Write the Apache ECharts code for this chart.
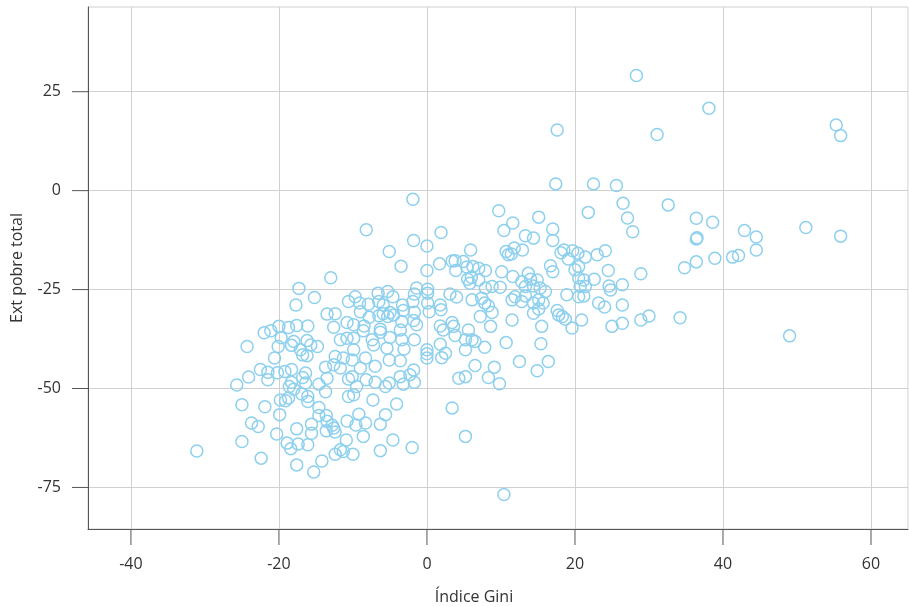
<!DOCTYPE html>
<html><head><meta charset="utf-8">
<script src="https://cdn.jsdelivr.net/npm/echarts@6/dist/echarts.min.js"></script>
<style>html,body{margin:0;padding:0;background:#fff}#c{width:909px;height:607px}</style>
</head><body><div id="c"></div>
<script>
// Índice Gini (x) and Ext pobre total (y)
const giniX = [
28.3,38.1,17.6,31.1,55.3,55.9,17.4,22.5,25.6,26.5,32.6,27.1,27.8,36.4,38.6,36.4,36.5,42.9,44.5,44.5,42.1,41.3,38.9,36.4,34.8,28.9,51.2,55.9,49.0,21.8,
9.7,15.1,11.6,10.4,13.3,14.4,17.0,17.0,10.7,11.0,11.8,12.9,11.4,18.5,18.1,19.1,19.7,20.4,21.4,23.0,24.1,16.7,17.0,10.1,11.6,13.7,12.8,14.0,14.9,14.4,
7.9,7.0,7.0,7.9,8.8,9.9,13.3,15.3,16.0,20.0,20.5,20.5,21.2,21.4,20.7,22.6,24.5,24.8,24.6,26.4,18.9,20.5,21.2,7.4,11.5,11.9,12.8,13.3,14.4,15.1,
15.7,7.8,8.3,15.1,14.4,8.8,17.6,17.8,18.3,18.7,23.2,24.0,26.4,7.2,11.5,15.5,20.9,26.4,8.6,
19.6,25.0,6.5,7.8,10.7,15.4,6.5,9.1,12.5,14.9,16.4,8.3,9.8,10.4,28.9,30.0,34.2,
-1.9,-8.2,-1.8,0.0,1.9,-5.1,-3.5,0.0,5.9,-13.0,1.7,3.4,3.8,3.9,4.9,5.4,6.2,5.5,5.8,6.0,-1.4,-1.7,0.1,0.1,3.1,4.0,6.1,-6.6,-5.3,-4.6,
-6.5,-9.7,-10.6,-9.1,-7.9,-5.9,-3.3,-1.9,0.1,1.8,1.9,0.3,-1.7,-3.2,-5.0,-5.9,-6.5,-7.8,-9.0,-12.4,-10.8,-9.9,-8.5,-6.3,-5.3,-4.5,-3.4,-1.8,-1.4,1.8,3.4,3.6,
-11.7,-10.8,-9.9,-8.6,-7.4,-6.3,-5.0,-3.6,-3.4,-1.7,-9.9,-7.2,-5.4,-3.1,-12.4,-11.3,-10.1,-8.3,-7.0,-5.1,-3.6,-11.7,-9.0,-1.8,-2.3,-3.6,-10.6,-10.1,-8.2,-7.0,
-5.1,-3.2,-1.7,-9.5,-5.6,0.0,0.0,0.0,1.8,2.0,2.5,2.2,3.8,5.6,5.2,6.1,5.2,4.3,5.2,3.4,5.2,-10.6,-9.9,-7.3,-4.1,-9.2,-5.6,-10.8,-9.6,-8.3,
-6.3,-12.6,-12.4,-8.6,-10.9,-4.6,-2.0,-6.3,-11.7,-11.3,-10.0,-12.4,
-17.3,-15.2,-17.7,-13.5,-22.0,-21.1,-20.0,-18.7,-17.6,-16.1,-12.6,-19.7,-18.0,-16.2,-24.3,-20.1,-18.3,-15.7,-14.8,-17.1,
-16.8,-16.2,-20.6,-22.5,-21.5,-21.5,-20.2,-19.2,-18.3,-16.4,-16.8,-13.7,-12.6,-13.5,-24.1,-25.7,-18.3,-18.6,-18.0,-16.4,-14.6,-13.7,-16.9,-16.1,-16.1,-19.8,-19.1,-18.7,-25.0,-21.9,
-14.6,-14.6,-13.6,-19.9,-13.5,-12.8,-23.7,-22.8,-15.6,-15.6,-17.6,-13.6,-20.3,-25.0,-18.9,-18.4,-17.4,-16.1,-31.1,-22.4,-14.2,-17.6,-15.3
];
const extPobre = [
29.1,20.8,15.3,14.2,16.6,13.9,1.7,1.7,1.3,-3.2,-3.6,-6.9,-10.4,-7.0,-8.0,-12.2,-11.9,-10.1,-11.7,-15.0,-16.4,-16.8,-17.1,-18.0,-19.5,-21.0,-9.3,-11.5,-36.7,-5.5,
-5.1,-6.7,-8.2,-10.1,-11.4,-12.0,-9.7,-12.6,-15.4,-16.2,-14.5,-15.0,-16.0,-15.0,-15.7,-17.3,-15.2,-15.8,-16.8,-16.2,-15.2,-19.0,-20.5,-20.5,-21.7,-20.9,-23.0,-22.4,-22.6,-24.1,
-20.2,-19.6,-22.6,-24.6,-24.2,-24.4,-24.2,-24.6,-25.5,-20.0,-19.2,-22.1,-22.6,-24.2,-24.2,-22.4,-20.2,-25.1,-24.1,-23.8,-26.3,-26.8,-26.6,-27.2,-27.6,-26.8,-28.0,-26.6,-28.4,-27.6,
-28.4,-28.4,-29.1,-29.9,-31.0,-30.8,-30.3,-31.4,-31.8,-32.5,-28.4,-29.4,-28.9,-31.8,-32.7,-34.3,-32.7,-33.5,-34.3,
-34.7,-34.3,-38.1,-39.6,-38.4,-38.7,-44.2,-44.6,-43.2,-45.5,-43.2,-47.2,-48.8,-76.8,-32.7,-31.7,-32.1,
-2.2,-9.9,-12.6,-14.0,-10.6,-15.4,-19.1,-20.2,-15.0,-22.0,-18.5,-17.8,-17.7,-20.2,-17.9,-19.3,-19.2,-22.4,-23.4,-21.9,-24.6,-26.1,-24.9,-25.9,-26.1,-26.9,-27.6,-25.9,-25.5,-26.8,
-28.0,-26.8,-28.0,-28.4,-28.7,-28.9,-28.9,-28.0,-28.4,-28.9,-30.1,-30.6,-30.7,-30.3,-30.8,-31.1,-31.6,-32.0,-30.6,-31.1,-33.3,-33.9,-34.2,-35.0,-31.8,-31.4,-33.1,-32.8,-33.9,-34.2,-33.3,-34.3,
-37.7,-37.3,-37.3,-35.4,-37.7,-35.8,-37.1,-35.2,-37.7,-37.7,-40.2,-39.0,-39.8,-40.0,-41.9,-42.3,-42.8,-42.3,-44.4,-42.8,-43.0,-44.8,-44.8,-45.3,-46.5,-47.0,-47.6,-47.0,-47.8,-48.4,
-48.6,-48.9,-48.4,-49.5,-49.5,-40.2,-42.3,-41.2,-38.8,-42.2,-41.1,-35.2,-36.6,-35.2,-37.7,-37.7,-40.2,-47.4,-47.0,-54.9,-62.1,-52.0,-51.6,-52.9,-53.9,-56.5,-56.6,-58.2,-59.2,-58.7,
-59.0,-60.0,-61.0,-62.1,-63.0,-63.0,-64.9,-65.7,-65.5,-65.9,-66.6,-66.6,
-24.7,-27.0,-28.9,-31.2,-35.9,-35.4,-34.3,-34.6,-34.1,-34.2,-34.5,-37.2,-38.1,-37.9,-39.4,-39.4,-39.1,-39.0,-39.4,-40.2,
-41.5,-41.7,-42.3,-45.2,-45.9,-47.8,-46.0,-45.7,-45.2,-46.1,-47.2,-44.6,-44.0,-47.4,-47.1,-49.1,-48.4,-49.5,-50.2,-48.6,-48.9,-50.8,-51.4,-52.0,-53.3,-52.9,-53.1,-52.4,-54.1,-54.6,
-54.8,-56.8,-56.8,-56.6,-58.3,-59.3,-58.7,-59.6,-59.0,-61.3,-60.2,-60.7,-61.5,-63.4,-63.8,-65.2,-64.0,-64.2,-65.8,-67.6,-68.3,-69.3,-71.1
];
const xTicks = [-40, -20, 0, 20, 40, 60];
const yTicks = [-75, -50, -25, 0, 25];
const xTitle = 'Índice Gini';
const yTitle = 'Ext pobre total';

const xMin = -45.8, xMax = 65, yMin = -85.5, yMax = 46.4;
const tickLen = 16;
const points = giniX.map((x, i) => [x, extPobre[i]]);
const font = '"Open Sans", "Noto Sans", sans-serif';
const chart = echarts.init(document.getElementById('c'), null, {renderer: 'canvas'});
const axisCommon = {
  type: 'value',
  axisLine: {show: true, onZero: false, lineStyle: {color: '#555', width: 1}},
  axisLabel: {color: '#333', fontSize: 16, fontFamily: font, margin: 27},
  splitLine: {show: true, lineStyle: {color: '#d0d0d0', width: 1}}
};
chart.setOption({
  animation: false,
  backgroundColor: '#fff',
  grid: {left: 88, top: 7, right: 1, bottom: 78, show: true, borderColor: '#cfcfcf', borderWidth: 1, backgroundColor: 'transparent'},
  xAxis: Object.assign({}, axisCommon, {
    min: xMin, max: xMax,
    axisTick: {show: false, customValues: xTicks},
    axisLabel: Object.assign({}, axisCommon.axisLabel, {customValues: xTicks})
  }),
  yAxis: Object.assign({}, axisCommon, {
    min: yMin, max: yMax,
    axisTick: {show: false, customValues: yTicks},
    axisLabel: Object.assign({}, axisCommon.axisLabel, {customValues: yTicks})
  }),
  series: [
    {
      type: 'scatter',
      data: points,
      symbol: 'circle',
      symbolSize: 12,
      itemStyle: {color: 'transparent', borderColor: '#8dd0ee', borderWidth: 1.5, opacity: 1}
    },
    {
      // x-axis tick marks, placed on the axis through the chart's scale
      type: 'scatter',
      silent: true,
      clip: false,
      z: 10,
      data: xTicks.map(v => [v, yMin]),
      symbol: 'rect',
      symbolSize: [1, tickLen],
      symbolOffset: [0, tickLen / 2],
      itemStyle: {color: '#555', opacity: 1},
      emphasis: {disabled: true}
    },
    {
      // y-axis tick marks
      type: 'scatter',
      silent: true,
      clip: false,
      z: 10,
      data: yTicks.map(v => [xMin, v]),
      symbol: 'rect',
      symbolSize: [tickLen, 1],
      symbolOffset: [-tickLen / 2, 0],
      itemStyle: {color: '#555', opacity: 1},
      emphasis: {disabled: true}
    }
  ],
  graphic: [
    {type: 'text', x: 474, y: 597, style: {text: xTitle, fill: '#333', font: '16px ' + font, textAlign: 'center', textVerticalAlign: 'middle'}},
    {type: 'text', x: 17, y: 268, rotation: Math.PI / 2, style: {text: yTitle, fill: '#333', font: '16px ' + font, textAlign: 'center', textVerticalAlign: 'middle'}}
  ]
});
</script>
</body></html>
